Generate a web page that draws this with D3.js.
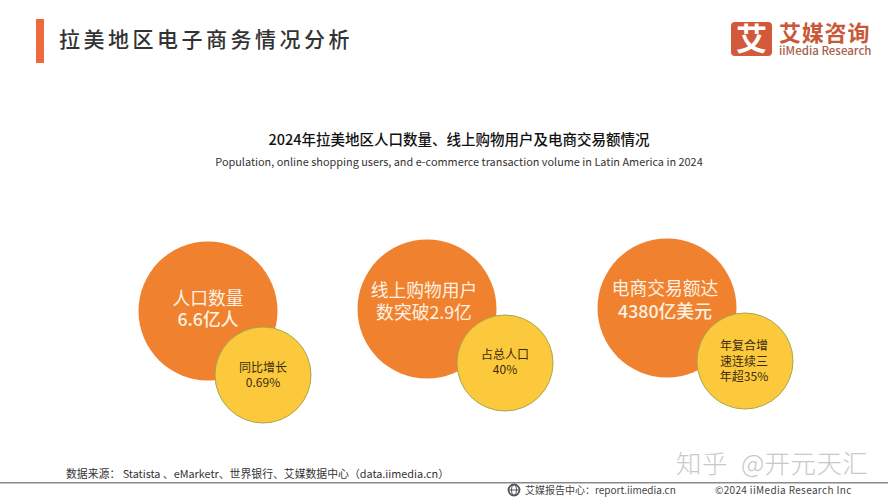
<!DOCTYPE html>
<html><head><meta charset="utf-8">
<script src="https://cdnjs.cloudflare.com/ajax/libs/d3/7.8.5/d3.min.js"></script>
<style>html,body{margin:0;padding:0;background:#fff}svg{display:block}text{font-family:"Noto Sans CJK SC","Noto Sans",sans-serif}</style>
</head><body><svg id="c" width="888" height="500"></svg>
<script>
const categories = ["人口", "用户", "交易额"];
const mainLabels = [["人口数量", "6.6亿人"], ["线上购物用户", "数突破2.9亿"], ["电商交易额达", "4380亿美元"]];
const subLabels = [["同比增长", "0.69%"], ["占总人口", "40%"], ["年复合增", "速连续三", "年超35%"]];

const svg = d3.select("#c");
const xMain = d3.scaleOrdinal().domain(categories).range([208, 427, 667]);
const yMain = d3.scaleOrdinal().domain(categories).range([311, 309, 308]);
const xSub = d3.scaleOrdinal().domain(categories).range([263, 505, 745]);
const ySub = d3.scaleOrdinal().domain(categories).range([375, 363, 361]);

function txt(x, y, s, size, fill, opt = {}) {
  return svg.append("text").attr("x", x).attr("y", y).attr("font-size", size).attr("fill", fill)
    .attr("text-anchor", opt.anchor || "start").attr("font-weight", opt.weight || 400)
    .attr("letter-spacing", opt.ls || 0).text(s);
}

// header
svg.append("rect").attr("x", 36).attr("y", 19).attr("width", 8).attr("height", 44).attr("fill", "#ec6a3c");
txt(59, 47, "拉美地区电子商务情况分析", 21, "#333333", {ls: 3.5, weight: 500});

// logo
svg.append("rect").attr("x", 731).attr("y", 22).attr("width", 41).attr("height", 34).attr("rx", 4).attr("fill", "#d2593a");
txt(751.5, 50, "艾", 31, "#ffffff", {anchor: "middle", weight: 700});
txt(779, 41, "艾媒咨询", 22, "#c9573a", {ls: 0.8, weight: 700});
txt(779, 54.5, "iiMedia Research", 11.5, "#a8604c", {weight: 500});

// titles
txt(459, 145, "2024年拉美地区人口数量、线上购物用户及电商交易额情况", 14.5, "#111111", {anchor: "middle", weight: 500});
txt(459, 166, "Population, online shopping users, and e-commerce transaction volume in Latin America in 2024", 10.9, "#333333", {anchor: "middle"});

// main circles
svg.append("g").selectAll("circle").data(categories).join("circle")
  .attr("cx", d => xMain(d)).attr("cy", d => yMain(d)).attr("r", 69.5).attr("fill", "#f0812e");
categories.forEach((c, i) => {
  const ys = [[305, 326], [297, 319], [295, 318]][i];
  mainLabels[i].forEach((s, j) => txt(xMain(c) + [0, -3, -2][i], ys[j], s, 17.8, "#fdf1e3", {anchor: "middle", weight: j === 1 && i !== 1 ? 500 : 400}));
});

// small circles
svg.append("g").selectAll("circle").data(categories).join("circle")
  .attr("cx", d => xSub(d)).attr("cy", d => ySub(d)).attr("r", 48)
  .attr("fill", "#fdc93c").attr("stroke", "#a9a64a").attr("stroke-width", 1);
categories.forEach((c, i) => {
  const ys = [[372, 387], [359, 374], [350, 366, 381]][i];
  subLabels[i].forEach((s, j) => txt(xSub(c) + [0, 0, -1][i], ys[j], s, 12, "#3a2c10", {anchor: "middle"}));
});

// footer
txt(66, 478, "数据来源： Statista 、eMarketr、世界银行、艾媒数据中心（data.iimedia.cn）", 10.85, "#333333");
svg.append("rect").attr("x", 0).attr("y", 482).attr("width", 888).attr("height", 1.5).attr("fill", "#8a8a8a");
svg.append("circle").attr("cx", 514).attr("cy", 490).attr("r", 5.5).attr("fill", "none").attr("stroke", "#555").attr("stroke-width", 1.8);
svg.append("ellipse").attr("cx", 514).attr("cy", 490).attr("rx", 2.5).attr("ry", 5.5).attr("fill", "none").attr("stroke", "#555").attr("stroke-width", 1);
svg.append("line").attr("x1", 508.5).attr("x2", 519.5).attr("y1", 490).attr("y2", 490).attr("stroke", "#555").attr("stroke-width", 1);
txt(525, 494, "艾媒报告中心：report.iimedia.cn", 10, "#444444");
txt(715, 494, "©2024  iiMedia Research  Inc", 10, "#444444", {ls: 0.35});

// watermark
txt(676, 473, "知乎", 25.5, "#c9c9c9", {weight: 300, ls: 0.4});
txt(741, 473, "@开元天汇", 25.5, "#c9c9c9", {weight: 300, ls: 0.4});
</script></body></html>
